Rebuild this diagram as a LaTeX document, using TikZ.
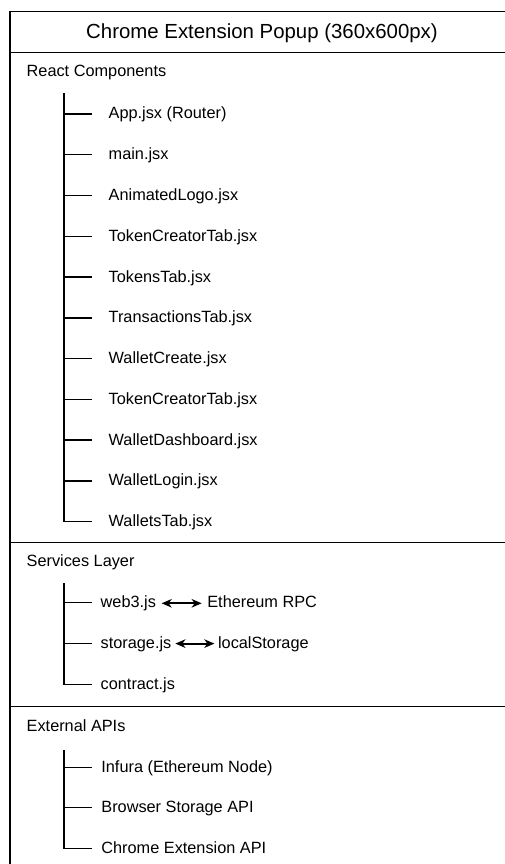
\documentclass[tikz,border=0pt]{standalone}
\usepackage{fontspec}
\setmainfont{Liberation Sans}
\usetikzlibrary{arrows.meta, positioning}

\begin{document}
\begin{tikzpicture}[x=1pt, y=-1pt, line width=1.4pt,
	entry/.style = {anchor=west, inner sep=0pt, text height=0.8em, text depth=0.2em, font=\fontsize{16.3}{19}\selectfont},
	link/.style = {{Stealth[length=10pt, width=8.5pt, inset=3pt]}-{Stealth[length=10pt, width=8.5pt, inset=3pt]}, line width=2pt}]
	\def\xL{10}
	\def\xR{520}
	\def\xTrunk{64}
	\def\dy{40.77}

	\useasboundingbox (0,0) rectangle (505,864);
	\clip (0,0) rectangle (505,864);

	% frame and title
	\begin{scope}
		\draw (\xL,11.7) rectangle (\xR,880);
		\draw (\xL,52.3) -- (\xR,52.3);
		\draw (\xL,542.3) -- (\xR,542.3);
		\draw (\xL,706.7) -- (\xR,706.7);
		\node [font=\fontsize{20.4}{24}\selectfont] (title) at (262,33) {Chrome Extension Popup (360x600px)};
	\end{scope}

	% react components
	\begin{scope}
		\node [entry] (react) at (26,73.7) {React Components};
		\coordinate (rTop) at (\xTrunk,93);
		\foreach \name [count=\i] in {App.jsx (Router), main.jsx, AnimatedLogo.jsx, TokenCreatorTab.jsx, TokensTab.jsx, TransactionsTab.jsx, WalletCreate.jsx, TokenCreatorTab.jsx, WalletDashboard.jsx, WalletLogin.jsx, WalletsTab.jsx} {
			\node [entry] (r\i) at (108,116+\dy*\i-\dy) {\name};
			\coordinate (rb\i) at (\xTrunk,114+\dy*\i-\dy);
			\draw (rb\i) -- ([xshift=-16pt]rb\i -| r\i.west);
		}
		\draw (rTop) |- ([xshift=-16pt]rb11 -| r11.west);
	\end{scope}

	% services layer
	\begin{scope}
		\node [entry] (services) at (26,563.7) {Services Layer};
		\coordinate (sTop) at (\xTrunk,583);
		\node [entry] (web3) at (100,604.3) {web3.js};
		\node [entry] (storage) at (100,645.6) {storage.js};
		\node [entry] (contract) at (100,686.3) {contract.js};
		\node [entry, right=50pt of web3] (rpc) {Ethereum RPC};
		\node [entry, right=45.3pt of storage] (local) {localStorage};
		\foreach \n in {web3, storage, contract} {
			\draw ([yshift=2pt]\xTrunk,0 |- \n) -- ([xshift=-8pt, yshift=2pt]\n.west);
		}
		\draw (sTop) |- ([xshift=-8pt, yshift=2pt]contract.west);
		\draw [link, shorten <=5pt, shorten >=5pt] ([yshift=1pt]web3.east) -- ([yshift=1pt]rpc.west);
		\draw [link, shorten <=3.3pt, shorten >=3pt] ([yshift=2pt]storage.east) -- ([yshift=2pt]local.west);
	\end{scope}

	% external apis
	\begin{scope}
		\node [entry] (external) at (26,728) {External APIs};
		\coordinate (eTop) at (\xTrunk,750);
		\node [entry] (infura) at (100.7,769.3) {Infura (Ethereum Node)};
		\node [entry] (browser) at (100.7,809.3) {Browser Storage API};
		\node [entry] (chrome) at (100.7,850.3) {Chrome Extension API};
		\foreach \n in {infura, browser, chrome} {
			\draw ([yshift=2pt]\xTrunk,0 |- \n) -- ([xshift=-8.7pt, yshift=2pt]\n.west);
		}
		\draw (eTop) |- ([xshift=-8.7pt, yshift=2pt]chrome.west);
	\end{scope}
\end{tikzpicture}
\end{document}
